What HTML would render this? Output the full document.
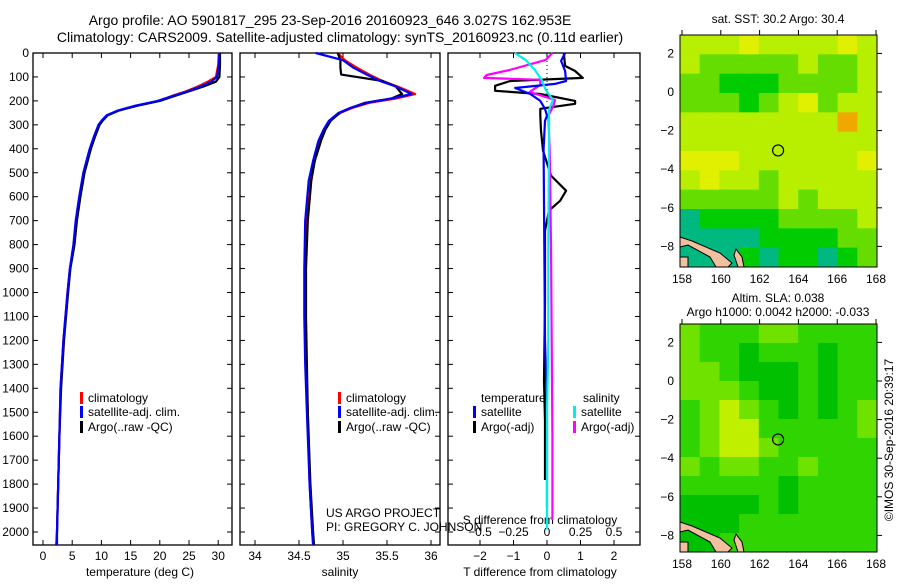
<!DOCTYPE html>
<html><head><meta charset="utf-8"><style>
body{margin:0;background:#fff;}
svg text{font-family:"Liberation Sans",sans-serif;font-size:12px;fill:#000;}
</style></head><body>
<svg id="fig" width="900" height="580" viewBox="0 0 900 580" xmlns="http://www.w3.org/2000/svg">
<rect width="900" height="580" fill="#fff"/>
<text x="330" y="25" text-anchor="middle" style="font-size:14px">Argo profile: AO 5901817_295 23-Sep-2016 20160923_646 3.027S 162.953E</text>
<text x="340" y="42" text-anchor="middle" style="font-size:14px">Climatology: CARS2009. Satellite-adjusted climatology: synTS_20160923.nc (0.11d earlier)</text>
<g id="g"></g>
</svg>
<script>
// ---- data ----
const depthTicks=[0,100,200,300,400,500,600,700,800,900,1000,1100,1200,1300,1400,1500,1600,1700,1800,1900,2000];
const tempTicks=[0,5,10,15,20,25,30];
const salTicks=[34,34.5,35,35.5,36];
const dTTicks=[-2,-1,0,1,2];
const dSTicks=[-0.5,-0.25,0,0.25,0.5];
const tempDepth=[0,50,100,120,140,160,180,200,220,240,260,280,300,350,400,500,600,700,800,900,1000,1200,1400,1600,1800,2000,2054];
const tempClim=[30.1,30.0,29.6,28.2,26.5,24.5,22,19.8,16,13,11,10.2,9.6,8.8,8.1,7.0,6.3,5.7,5.3,4.6,4.2,3.5,3.0,2.8,2.6,2.4,2.3];
const tempSat=[30.2,30.1,29.8,28.8,27,24.8,22.2,19.6,15.8,12.8,10.9,10.1,9.5,8.7,8.0,6.9,6.2,5.6,5.2,4.6,4.2,3.5,3.0,2.8,2.6,2.4,2.4];
const tempArgo=[30.3,30.3,30.2,29.6,27.5,25,22.5,20,16.2,13,11.1,10.3,9.7,8.9,8.2,7.1,6.4,5.8,5.4,4.7,4.3,3.6,3.1,2.8,2.6,2.4,2.3];
const salDepth=[0,30,62,90,117,140,171,190,208,230,250,283,320,367,450,533,700,900,1100,1300,1500,1800,2000,2054];
const salClim=[34.94,35.02,35.16,35.3,35.45,35.62,35.82,35.6,35.3,35.1,34.97,34.85,34.79,34.74,34.67,34.62,34.58,34.57,34.57,34.58,34.6,34.62,34.65,34.66];
const salSat=[34.69,35.0,35.12,35.27,35.42,35.6,35.78,35.55,35.27,35.08,34.95,34.84,34.78,34.72,34.66,34.61,34.57,34.56,34.56,34.57,34.59,34.62,34.65,34.66];
const salArgo=[34.94,34.97,34.97,34.98,35.45,35.6,35.67,35.55,35.25,35.08,34.96,34.86,34.8,34.75,34.68,34.64,34.6,34.58,34.58,34.59,34.6,34.63,34.66,34.67];
const dTSatDepth=[0,33,75,117,129,146,171,200,233,262,283,400,800,1200,1500,1900];
const dTSat=[0.54,0.42,0.54,0.57,0.24,-0.95,-0.5,-0.2,-0.06,0,-0.06,-0.1,-0.08,-0.06,0,0];
const dTArgoDepth=[0,54,75,104,117,137,158,171,200,212,233,262,325,408,512,575,617,658,742,1033,1367,1533,1783];
const dTArgo=[0.5,0.54,0.84,1.07,-1.1,-1.55,-1.55,-0.2,0.84,0.84,-0.2,-0.2,-0.18,-0.12,0.12,0.57,0.39,0.06,-0.06,-0.06,-0.09,-0.06,-0.06];
const dSArgoDepth=[0,29,71,92,104,112,133,163,196,225,262,400,800,1200,1600,1950];
const dSArgo=[0.04,-0.01,-0.28,-0.45,-0.47,-0.05,-0.05,-0.13,0.06,0.045,0.01,0.02,0.03,0.035,0.04,0.04];
const dSSatDepth=[0,29,71,112,154,196,237,400,800,1200,1500,1990];
const dSSat=[-0.24,-0.16,-0.09,-0.04,-0.01,0.045,0.015,0.015,0.01,0.01,0,0];
const sstRows=[
[3,3,3,4,3,3,3,3,4,3],[3,2,2,2,2,2,3,2,2,3],[2,2,1,1,1,2,2,2,2,3],[2,2,2,1,2,3,4,2,3,3],
[3,3,3,3,3,3,3,3,5,3],[3,3,3,3,3,3,3,3,3,3],[4,4,4,3,3,3,3,3,3,4],[3,4,3,3,2,3,3,3,3,3],
[2,2,2,2,2,3,2,3,3,3],[0,1,1,1,1,2,2,2,2,3],[0,0,0,0,1,1,1,1,2,2],[0,0,0,1,0,1,1,0,1,2]];
const slaRows=[
[2,1,1,1,2,2,1,1,1,1],[2,1,1,0,1,1,1,0,1,1],[2,2,1,0,0,0,1,0,1,1],[2,2,2,1,0,0,1,0,1,1],
[1,2,3,2,1,0,1,0,1,2],[1,2,3,3,1,1,1,1,1,2],[1,2,3,3,2,1,1,1,1,1],[2,1,2,2,1,1,2,1,1,1],
[1,1,1,1,1,0,1,1,1,1],[0,0,0,0,1,0,1,1,1,1],[0,0,0,1,1,1,1,1,1,1],[0,0,1,1,1,1,1,1,1,1]];
const lonTicks=[158,160,162,164,166,168];
const latTicks=[2,0,-2,-4,-6,-8];
const sstColors=["#00b880","#00cc00","#66dd00","#b8ee00","#e0f000","#f0a800"];
const slaColors=["#00c000","#30d400","#70e200","#c0f000"];
// ---- drawing ----
const NS="http://www.w3.org/2000/svg",G=document.getElementById('g');
function el(t,a,p){const e=document.createElementNS(NS,t);for(const k in a)e.setAttribute(k,a[k]);(p||G).appendChild(e);return e;}
const Y=d=>53+d*0.2395;
const xT=t=>43+t*5.84, xS=s=>343+(s-35)*88, xdT=v=>547+v*33.5, xdS=v=>547+v*134;
const TOP=53,BOT=545;
function frame(x0,x1,name){const r=el('rect',{x:x0,y:TOP,width:x1-x0,height:BOT-TOP,fill:'none',stroke:'#000','stroke-width':1.3});

}
function line(ds,vs,fx,col,name,w){const pts=ds.map((d,i)=>fx(vs[i]).toFixed(1)+','+Y(d).toFixed(1)).join(' ');
const p=el('polyline',{points:pts,fill:'none',stroke:col,'stroke-width':w||2.2,'stroke-linejoin':'round'});

}
function txt(x,y,s,anc,name,extra){const t=el('text',Object.assign({x:x,y:y,'text-anchor':anc||'start'},extra||{}));t.textContent=s;

return t;}
function xticks(vals,fx,labY,name){vals.forEach(v=>{const x=fx(v);el('line',{x1:x,x2:x,y1:BOT,y2:BOT-5,stroke:'#000'});el('line',{x1:x,x2:x,y1:TOP,y2:TOP+5,stroke:'#000'});
txt(x,labY,String(v).replace('-','\u2212'),'middle',name);});}
frame(33,232,'temperature-panel');frame(240,440,'salinity-panel');frame(448,640,'difference-panel');
depthTicks.forEach(d=>{el('line',{x1:33,x2:38,y1:Y(d),y2:Y(d),stroke:'#000'});el('line',{x1:227,x2:232,y1:Y(d),y2:Y(d),stroke:'#000'});
el('line',{x1:240,x2:245,y1:Y(d),y2:Y(d),stroke:'#000'});el('line',{x1:435,x2:440,y1:Y(d),y2:Y(d),stroke:'#000'});
el('line',{x1:448,x2:453,y1:Y(d),y2:Y(d),stroke:'#000'});el('line',{x1:635,x2:640,y1:Y(d),y2:Y(d),stroke:'#000'});
txt(29,Y(d)+4,String(d),'end','depth-tick-label');});
xticks(tempTicks,xT,560,'temperature-tick-label');
xticks(salTicks,xS,560,'salinity-tick-label');
xticks(dTTicks,xdT,560,'t-diff-tick-label');
dSTicks.forEach(v=>txt(xdS(v),536,String(v).replace('-','\u2212'),'middle','s-diff-tick-label'));
txt(140,576,'temperature (deg C)','middle','temperature-axis-title');
txt(340,576,'salinity','middle','salinity-axis-title');
txt(540,576,'T difference from climatology','middle','t-diff-axis-title');
txt(540,524,'S difference from climatology','middle','s-diff-axis-title');
// profiles
line(tempDepth,tempClim,xT,'#f00','temperature-climatology-line');
line(tempDepth,tempArgo,xT,'#000','temperature-argo-line');
line(tempDepth,tempSat,xT,'#00f','temperature-satellite-line');
line(salDepth,salClim,xS,'#f00','salinity-climatology-line');
line(salDepth,salArgo,xS,'#000','salinity-argo-line');
line(salDepth,salSat,xS,'#00f','salinity-satellite-line');
const dz=el('line',{x1:547,x2:547,y1:TOP,y2:105,stroke:'#000','stroke-dasharray':'1,3'});


line(dTArgoDepth,dTArgo,xdT,'#000','t-diff-argo-line');
line(dSArgoDepth,dSArgo,xdS,'#f0f','s-diff-argo-line');
line(dTSatDepth,dTSat,xdT,'#00f','t-diff-satellite-line');
line(dSSatDepth,dSSat,xdS,'#0ee','s-diff-satellite-line');
// legends
function leg(x,y,col,s,name){if(col)el('rect',{x:x,y:y-10,width:3,height:12,fill:col});txt(x+8,y,s,'start',name);}
[[80,'temperature'],[338,'salinity']].forEach(([x,n])=>{leg(x,402,'#f00','climatology',n+'-legend-climatology');leg(x,416,'#00f','satellite-adj. clim.',n+'-legend-satellite');leg(x,431,'#000','Argo(..raw -QC)',n+'-legend-argo');});
leg(473,402,null,'temperature','diff-legend-temperature-header');leg(473,416,'#00f','satellite','diff-legend-t-satellite');leg(473,431,'#000','Argo(-adj)','diff-legend-t-argo');
leg(575,402,null,'salinity','diff-legend-salinity-header');leg(573,416,'#0ee','satellite','diff-legend-s-satellite');leg(573,431,'#f0f','Argo(-adj)','diff-legend-s-argo');
txt(326,517,'US ARGO PROJECT','start','project-credit');
txt(326,531,'PI: GREGORY C. JOHNSON','start','pi-credit');
// maps
function map(y0,y1,rows,cols,name,lat0pix){const x0=680,x1=877,W=(x1-x0)/10,H=(y1-y0)/12;
const grp=el('g',{});
rows.forEach((r,i)=>r.forEach((v,j)=>{el('rect',{x:x0+j*W,y:y0+i*H,width:W+0.5,height:H+0.5,fill:cols[v]},grp);}));
el('path',{d:`M${x0},${y1-30} L${x0+12},${y1-26} L${x0+40},${y1-14} L${x0+52},${y1-4} L${x0+48},${y1} L${x0+36},${y1} L${x0+30},${y1-10} L${x0+8},${y1-22} L${x0},${y1-20}Z`,fill:'#f0c0a0',stroke:'#000','stroke-width':1},grp);
el('path',{d:`M${x0+56},${y1-18} L${x0+62},${y1-10} L${x0+64},${y1} L${x0+58},${y1} L${x0+54},${y1-12}Z`,fill:'#f0c0a0',stroke:'#000','stroke-width':1},grp);
el('rect',{x:x0,y:y1-10,width:8,height:10,fill:'#f0c0a0',stroke:'#000'},grp);
el('rect',{x:x0,y:y0,width:x1-x0,height:y1-y0,fill:'none',stroke:'#000'},grp);
const lx=lon=>682+(lon-158)*19.4, ly=lat=>lat0pix-lat*19.3;
lonTicks.forEach(l=>{el('line',{x1:lx(l),x2:lx(l),y1:y0,y2:y0-5,stroke:'#000'});txt(lx(l),y1+16,String(l),'middle',name+'-lon-label');});
latTicks.forEach(l=>{el('line',{x1:x1,x2:x1+5,y1:ly(l),y2:ly(l),stroke:'#000'});txt(674,ly(l)+4,String(l).replace('-','\u2212'),'end',name+'-lat-label');});
const c=el('circle',{cx:lx(162.953),cy:ly(-3.027),r:5.5,fill:'none',stroke:'#000','stroke-width':1.2});

}
map(35,267,sstRows,sstColors,'sst-map',92);
map(324,552,slaRows,slaColors,'sla-map',381);
txt(778,23,'sat. SST: 30.2  Argo: 30.4','middle','sst-map-title');
txt(778,302,'Altim. SLA: 0.038','middle','sla-map-title');
txt(778,316,'Argo h1000: 0.0042 h2000: -0.033','middle','sla-map-subtitle');
txt(0,0,'\u00a9IMOS 30-Sep-2016 20:39:17','middle','imos-credit',{transform:'translate(893,440) rotate(-90)'});
</script>
</body></html>
